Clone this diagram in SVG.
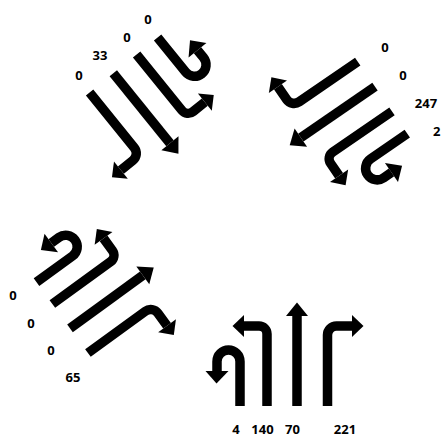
<svg xmlns="http://www.w3.org/2000/svg" xmlns:xlink="http://www.w3.org/1999/xlink" width="441" height="438" viewBox="0 0 441 438">
<style>
.s{fill:none;stroke:#000;stroke-width:9.5;stroke-linecap:butt;stroke-linejoin:miter}
.h{fill:#000;stroke:none}
.t{font-family:"Open Sans","DejaVu Sans",sans-serif;font-weight:bold;font-size:13px;fill:#000;text-anchor:middle}
</style>
<defs>
<g id="arrow-u"><path class="s" d="M-57 0 V-44.5 A11.5 11.5 0 0 0 -80 -44.5 V-35"/><polygon class="h" points="-91.5,-35 -68.5,-35 -80.5,-22.5"/></g>
<g id="arrow-l"><path class="s" d="M-30 0 V-72 A8 8 0 0 0 -38 -80 H-53"/><polygon class="h" points="-53,-91 -53,-69 -64.5,-80"/></g>
<g id="arrow-t"><path class="s" d="M0 0 V-90"/><polygon class="h" points="-11,-90 11,-90 0,-103.5"/></g>
<g id="arrow-r"><path class="s" d="M30.5 0 V-71 A9 9 0 0 1 39.5 -80 H55"/><polygon class="h" points="55,-91 55,-69 66.5,-80"/></g>
</defs>
<rect width="441" height="438" fill="#fff"/>
<g id="connectors"></g>
<g id="approach-north" transform="translate(113.3,73.3) rotate(141)">
<use xlink:href="#arrow-u" href="#arrow-u"/><use xlink:href="#arrow-l" href="#arrow-l"/><use xlink:href="#arrow-t" href="#arrow-t"/><use xlink:href="#arrow-r" href="#arrow-r"/>
</g>
<g id="labels-north">
<text class="t" x="79" y="80">0</text><text class="t" x="100" y="60">33</text><text class="t" x="127" y="42">0</text><text class="t" x="148" y="24">0</text>
</g>
<g id="approach-east" transform="translate(375,86.7) rotate(-124.5)">
<use xlink:href="#arrow-u" href="#arrow-u"/><use xlink:href="#arrow-l" href="#arrow-l"/><use xlink:href="#arrow-t" href="#arrow-t"/><use xlink:href="#arrow-r" href="#arrow-r"/>
</g>
<g id="labels-east">
<text class="t" x="385" y="52">0</text><text class="t" x="403" y="80">0</text><text class="t" x="426" y="108">247</text><text class="t" x="433" y="136" style="text-anchor:start">2</text>
</g>
<g id="approach-west" transform="translate(70,328.3) rotate(54)">
<use xlink:href="#arrow-u" href="#arrow-u"/><use xlink:href="#arrow-l" href="#arrow-l"/><use xlink:href="#arrow-t" href="#arrow-t"/><use xlink:href="#arrow-r" href="#arrow-r"/>
</g>
<g id="labels-west">
<text class="t" x="13" y="300">0</text><text class="t" x="31" y="328">0</text><text class="t" x="51" y="355">0</text><text class="t" x="73" y="382">65</text>
</g>
<g id="approach-south" transform="translate(297,406)">
<use xlink:href="#arrow-u" href="#arrow-u"/><use xlink:href="#arrow-l" href="#arrow-l"/><use xlink:href="#arrow-t" href="#arrow-t"/><use xlink:href="#arrow-r" href="#arrow-r"/>
</g>
<g id="labels-south">
<text class="t" x="236" y="434">4</text><text class="t" x="262.5" y="434">140</text><text class="t" x="292.5" y="434">70</text><text class="t" x="345" y="434">221</text>
</g>
</svg>
